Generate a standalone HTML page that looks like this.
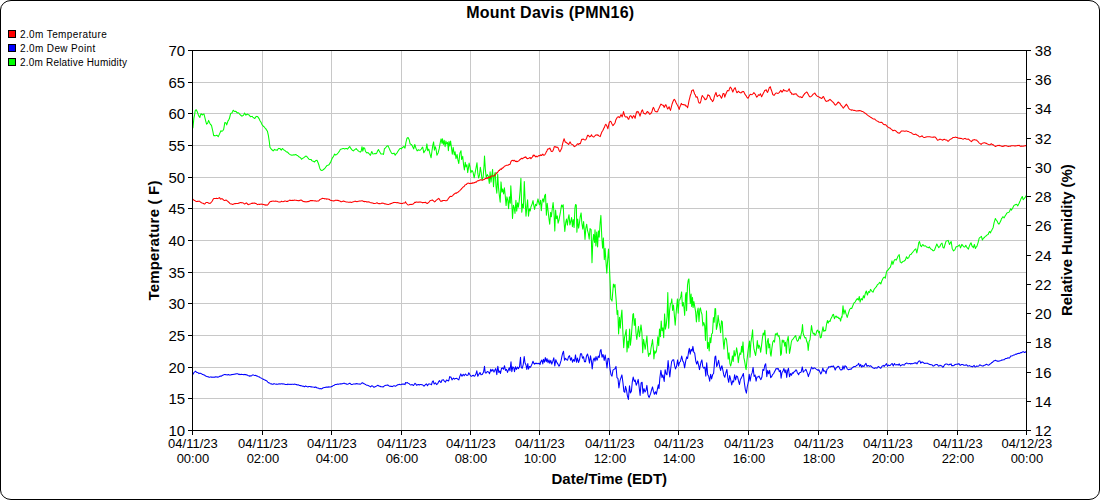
<!DOCTYPE html>
<html><head><meta charset="utf-8"><title>Mount Davis (PMN16)</title>
<style>
html,body{margin:0;padding:0;background:#fff;}
svg{display:block;font-family:"Liberation Sans",sans-serif;}
.g line{stroke:#c8c8c8;stroke-width:1;shape-rendering:crispEdges;}
.ax line{stroke:#000;stroke-width:1;shape-rendering:crispEdges;}
.yl text{font-size:15px;fill:#000;}
.xl text{font-size:13px;fill:#000;text-anchor:middle;}
.lg text{font-size:10px;fill:#000;}
.b{font-weight:bold;fill:#000;}
.c{fill:none;stroke-width:1.05;stroke-linejoin:round;stroke-linecap:round;}
</style></head><body>
<svg width="1100" height="500" viewBox="0 0 1100 500">
<rect x="0" y="0" width="1100" height="500" fill="#fff"/>
<rect x="0.5" y="0.5" width="1099" height="499" rx="10.5" ry="9.5" fill="#fff" stroke="#000" stroke-width="1"/>
<g class="g">
<line x1="262.5" y1="51" x2="262.5" y2="430"/>
<line x1="331.5" y1="51" x2="331.5" y2="430"/>
<line x1="401.5" y1="51" x2="401.5" y2="430"/>
<line x1="470.5" y1="51" x2="470.5" y2="430"/>
<line x1="539.5" y1="51" x2="539.5" y2="430"/>
<line x1="609.5" y1="51" x2="609.5" y2="430"/>
<line x1="678.5" y1="51" x2="678.5" y2="430"/>
<line x1="748.5" y1="51" x2="748.5" y2="430"/>
<line x1="818.5" y1="51" x2="818.5" y2="430"/>
<line x1="887.5" y1="51" x2="887.5" y2="430"/>
<line x1="957.5" y1="51" x2="957.5" y2="430"/>
<line x1="193" y1="82.5" x2="1026" y2="82.5"/>
<line x1="193" y1="113.5" x2="1026" y2="113.5"/>
<line x1="193" y1="145.5" x2="1026" y2="145.5"/>
<line x1="193" y1="177.5" x2="1026" y2="177.5"/>
<line x1="193" y1="208.5" x2="1026" y2="208.5"/>
<line x1="193" y1="240.5" x2="1026" y2="240.5"/>
<line x1="193" y1="272.5" x2="1026" y2="272.5"/>
<line x1="193" y1="303.5" x2="1026" y2="303.5"/>
<line x1="193" y1="335.5" x2="1026" y2="335.5"/>
<line x1="193" y1="367.5" x2="1026" y2="367.5"/>
<line x1="193" y1="398.5" x2="1026" y2="398.5"/>
</g>
<polyline class="c" stroke="#00ff00" points="192.9,128.0 193.9,118.1 194.6,114.7 195.2,110.7 196.2,109.7 196.9,111.0 197.5,112.3 198.4,115.0 199.1,116.4 199.8,117.5 200.4,115.3 201.1,113.7 201.7,114.3 202.3,115.0 203.2,114.2 204.0,114.0 204.7,116.9 205.3,119.4 206.0,122.1 206.6,124.2 207.6,123.3 208.6,120.4 209.8,123.2 210.6,124.5 211.5,125.3 212.1,128.1 212.8,131.2 213.7,135.6 214.5,135.6 215.4,135.7 216.0,135.6 216.7,135.3 217.5,135.8 218.3,136.6 219.1,134.9 219.9,133.1 220.9,130.8 221.6,131.3 222.2,131.2 222.9,130.5 223.6,129.6 224.2,126.3 224.8,122.5 225.8,122.7 226.7,124.9 227.3,123.0 228.0,120.9 228.6,120.1 229.3,118.8 229.9,116.5 230.6,113.7 231.2,113.2 231.9,113.0 232.5,111.8 233.2,110.2 233.8,110.8 234.5,111.5 235.3,111.3 236.2,111.6 236.8,112.5 237.5,113.0 238.1,112.8 238.8,113.0 239.6,114.1 240.5,115.0 241.1,115.5 241.8,116.2 242.5,115.8 243.3,115.4 244.0,114.2 244.6,113.0 245.3,114.2 245.9,115.2 246.7,114.4 247.5,114.1 248.3,114.8 249.2,115.0 249.8,115.9 250.5,116.8 251.3,116.6 252.2,116.4 252.8,117.1 253.5,117.6 254.1,118.2 254.8,118.4 255.5,117.4 256.3,116.4 257.0,116.5 257.6,116.6 258.4,117.6 259.2,118.9 260.0,120.8 260.9,122.0 261.7,123.9 262.6,125.4 263.3,126.3 264.1,126.7 264.9,127.8 265.7,128.6 266.5,129.9 267.4,131.2 268.4,135.6 269.3,141.7 270.0,147.5 270.6,148.1 271.3,149.2 271.9,149.8 272.6,150.3 273.2,150.9 273.9,150.2 274.5,149.4 275.2,149.8 275.8,150.1 276.5,150.0 277.1,150.4 277.9,149.2 278.7,148.4 279.3,148.6 280.0,148.4 280.6,149.4 281.3,150.2 281.9,149.1 282.6,148.5 283.2,149.3 283.9,150.0 284.7,150.4 285.6,151.2 286.4,151.9 287.3,152.0 288.0,152.6 288.8,153.6 289.6,154.1 290.4,154.8 291.2,154.9 292.1,155.3 292.9,154.9 293.8,154.8 294.5,154.9 295.3,154.6 296.1,154.8 296.9,155.3 297.7,155.6 298.6,156.5 299.3,157.0 300.0,157.4 300.8,158.1 301.5,159.3 302.2,158.7 303.0,158.1 303.8,157.7 304.5,157.1 305.4,156.3 306.2,156.1 306.9,156.6 307.5,157.6 308.2,158.1 309.0,159.3 309.7,159.4 310.3,159.4 311.0,159.4 311.8,160.6 312.5,161.1 313.2,161.3 313.8,161.5 314.5,162.0 315.5,160.8 316.2,160.5 317.0,160.2 318.2,163.0 318.9,165.0 319.5,167.4 320.1,169.0 320.8,170.1 321.8,170.5 322.6,170.2 323.5,169.5 324.2,169.0 325.0,168.1 325.8,167.0 326.5,166.1 327.1,165.4 327.8,165.3 329.0,164.7 330.0,163.1 330.8,161.8 331.5,160.0 332.2,158.3 333.0,157.1 333.8,155.8 334.5,154.1 335.5,155.0 336.1,154.7 336.8,154.5 337.5,153.5 338.2,152.8 338.9,151.9 339.5,150.9 340.1,149.8 340.8,149.2 341.5,148.9 342.2,148.8 343.0,148.5 343.8,148.6 344.5,148.9 345.2,148.7 345.9,148.5 346.5,148.5 347.5,149.1 348.5,147.9 349.7,146.5 350.8,148.4 352.0,149.8 352.8,150.5 353.5,150.9 354.1,150.1 354.8,149.6 355.5,149.1 356.2,148.5 356.9,149.6 357.5,149.9 358.2,150.9 359.0,151.4 360.2,152.1 361.2,151.1 362.0,146.7 362.8,151.1 363.8,147.5 364.8,148.6 365.5,151.5 366.1,152.1 366.8,152.9 368.0,152.6 369.2,153.8 369.9,154.8 370.5,155.3 371.1,153.1 371.8,151.5 372.8,153.9 374.0,153.7 375.2,153.4 375.9,153.7 376.5,153.6 377.5,151.1 378.5,149.5 379.1,150.7 379.8,151.9 381.0,154.0 381.8,154.0 382.5,153.9 383.5,154.4 384.5,148.4 385.1,148.3 385.8,147.5 387.0,146.1 388.0,145.8 389.2,148.4 389.9,150.0 390.5,151.3 391.5,153.1 392.1,153.6 392.8,153.7 394.0,153.1 395.2,155.3 395.9,154.1 396.5,153.4 397.1,152.8 397.8,151.5 399.0,149.7 400.2,148.4 400.9,148.5 401.5,148.9 402.1,147.7 402.8,147.3 404.0,146.5 405.0,148.1 405.9,142.6 407.0,138.2 408.1,137.5 409.2,139.7 410.1,143.8 410.8,144.3 411.5,144.5 412.6,146.6 413.7,148.9 414.8,144.5 415.9,148.1 417.1,150.9 417.8,150.3 418.5,149.8 419.2,150.3 419.9,150.3 420.6,149.9 421.3,149.0 422.0,147.9 422.7,147.1 423.8,152.8 424.9,150.9 426.0,149.5 426.9,143.9 427.7,150.8 428.8,149.1 429.9,153.6 431.1,157.8 431.9,151.5 432.7,145.9 433.6,141.9 434.4,150.2 435.3,146.7 436.1,149.5 436.9,155.2 438.1,153.0 439.2,148.7 440.3,142.4 441.1,138.9 442.0,143.3 442.5,138.8 443.4,144.5 444.2,140.3 445.1,146.7 445.9,141.1 446.7,143.9 447.6,142.4 448.4,150.7 449.0,141.4 449.8,145.9 450.6,141.1 451.5,148.0 452.3,154.2 453.2,147.4 454.3,155.0 455.1,151.7 456.0,158.6 457.1,154.5 457.9,159.9 458.8,163.5 459.9,153.1 461.0,150.7 461.6,159.5 462.7,156.3 463.5,164.3 464.4,170.0 465.2,162.2 466.0,166.9 466.9,164.7 467.7,172.6 468.4,168.4 469.1,163.1 470.0,166.9 470.8,172.8 471.9,170.4 473.0,172.0 474.2,177.8 475.3,171.8 476.1,167.6 477.0,162.7 477.8,173.2 478.6,178.0 479.5,175.2 480.3,167.2 481.2,172.3 482.0,179.8 483.1,177.3 484.0,166.1 484.5,156.0 485.4,169.9 486.2,177.5 487.3,174.6 488.4,176.5 489.3,183.5 490.1,171.8 491.0,182.1 491.8,175.7 492.6,169.4 493.5,186.8 494.3,175.5 495.2,172.4 496.0,186.2 496.8,193.3 497.7,174.1 498.5,187.6 499.4,195.9 500.2,202.2 501.0,181.9 501.9,192.1 502.7,189.0 503.6,193.9 504.4,187.8 505.2,195.2 506.1,205.6 506.9,196.8 507.8,200.3 508.6,208.8 509.4,196.8 510.3,203.2 510.8,185.8 511.7,200.8 512.5,218.5 513.4,205.2 514.2,207.8 515.0,213.5 515.9,200.3 516.7,211.1 517.6,202.7 518.4,207.2 519.2,201.1 520.1,190.9 520.9,178.3 521.8,212.2 522.6,204.0 523.4,207.8 524.3,181.6 525.1,199.9 526.0,216.3 526.8,207.4 527.6,199.8 528.5,216.3 529.3,208.8 530.2,211.0 531.0,206.7 532.1,204.0 533.0,200.6 533.8,205.5 534.6,209.4 535.5,204.3 536.6,205.7 537.3,201.9 538.0,198.9 538.7,202.4 539.4,204.8 540.5,200.3 541.3,210.8 542.2,200.8 543.0,198.8 543.8,202.1 544.7,195.5 545.5,194.3 546.4,215.2 547.2,203.2 548.0,210.1 548.9,218.2 549.7,224.3 550.6,212.4 551.4,216.8 552.2,209.5 553.1,202.5 553.9,211.5 554.8,231.1 555.6,210.0 556.4,218.7 557.3,215.9 558.1,223.2 559.0,220.0 559.8,215.6 560.6,211.2 561.5,205.0 562.3,207.0 563.2,204.7 564.0,221.5 564.8,231.5 565.7,222.7 566.5,219.0 567.4,225.1 568.2,218.3 569.0,214.7 569.9,224.9 570.7,221.6 571.6,217.5 572.4,226.8 573.2,219.5 574.1,227.6 574.9,208.7 575.5,204.6 576.3,204.9 576.9,232.3 577.7,219.1 578.6,228.1 579.4,223.4 580.2,216.8 581.1,212.9 581.9,223.5 582.8,229.1 583.6,221.5 584.4,231.0 585.0,239.4 585.8,228.4 586.7,224.2 587.5,230.3 588.4,233.7 589.2,239.3 590.0,228.5 591.1,229.7 592.0,262.8 592.8,241.6 593.6,234.4 594.5,242.4 595.0,229.7 595.9,245.9 596.7,232.1 597.6,247.0 598.4,230.9 599.2,237.1 600.1,223.2 600.9,215.4 601.8,237.2 602.6,248.1 603.4,237.9 604.3,259.6 605.1,248.3 606.0,262.3 606.8,273.1 607.6,261.1 608.5,249.1 609.3,263.9 610.1,281.4 610.8,299.2 611.4,299.5 612.0,301.1 612.7,292.7 613.4,284.1 614.2,287.0 615.0,284.4 615.6,293.3 616.2,300.6 617.1,314.4 617.8,310.6 618.6,334.0 619.5,317.3 620.3,328.1 621.2,316.1 621.9,310.1 622.7,328.2 623.7,347.7 624.5,337.7 625.4,333.7 626.2,329.6 627.0,351.9 627.9,341.0 628.7,347.9 629.6,329.1 630.4,345.3 631.2,338.2 632.1,325.4 632.9,314.4 633.5,313.6 634.3,325.5 635.2,318.5 636.0,333.0 636.8,339.5 637.7,332.5 638.5,326.4 639.4,336.8 640.2,331.2 641.0,324.9 641.9,332.6 642.7,352.8 643.6,339.3 644.4,344.1 645.2,349.3 646.1,342.4 646.9,335.9 647.8,350.4 648.6,356.4 649.4,353.4 650.3,354.1 651.1,347.5 652.0,342.9 652.5,339.6 653.4,349.1 653.9,358.9 654.8,350.7 655.6,353.1 656.4,351.3 657.3,343.9 657.8,336.7 658.7,345.6 659.5,329.0 660.4,336.7 661.2,321.0 662.0,330.8 662.9,327.8 663.7,337.8 664.6,313.9 665.4,329.1 666.2,325.4 667.1,316.2 667.8,292.5 668.7,328.3 669.6,310.4 670.4,303.7 671.2,303.0 671.8,298.9 672.6,310.4 673.5,305.1 674.3,314.6 675.2,325.3 676.0,314.6 676.8,305.2 677.4,298.9 678.2,313.3 679.1,299.9 679.9,299.7 680.8,296.7 681.6,291.9 682.4,306.1 683.3,302.5 684.1,308.6 684.7,315.4 685.5,295.2 686.1,292.6 686.6,310.8 687.5,285.2 688.3,279.9 688.9,278.9 689.7,293.4 690.3,303.6 691.1,294.1 691.7,306.5 692.5,297.4 693.1,307.6 693.9,301.5 694.8,306.9 695.6,311.8 696.4,321.9 697.3,311.9 698.1,308.0 699.0,321.6 699.8,309.3 700.4,307.9 701.2,311.9 702.0,314.5 702.9,325.9 703.7,322.5 704.7,325.6 705.5,340.4 706.5,310.9 707.5,348.4 708.3,342.3 709.2,350.9 710.0,337.5 710.8,342.8 711.7,333.8 712.5,333.2 713.4,317.6 714.2,322.3 715.0,308.6 715.6,308.8 716.4,329.5 717.3,325.6 718.1,315.3 719.0,322.4 719.8,325.8 720.6,332.7 721.5,320.8 722.3,321.9 723.2,340.6 724.0,349.1 724.8,339.7 725.7,337.9 726.5,339.8 727.4,347.7 728.2,359.1 729.0,352.8 729.9,363.4 730.7,366.0 731.6,361.8 732.4,355.9 733.2,361.5 734.1,350.5 734.9,356.3 735.8,353.8 736.6,347.8 737.4,352.7 738.3,362.8 739.1,356.3 740.0,352.9 740.8,354.4 741.6,346.3 742.2,352.2 743.0,341.9 743.9,357.9 744.7,361.6 745.6,367.4 746.1,369.6 747.0,359.9 747.8,352.9 748.6,346.4 749.5,341.0 750.0,357.3 750.9,342.4 751.7,337.5 752.6,329.8 753.1,340.7 754.0,349.2 754.8,352.6 755.6,355.5 756.5,349.1 757.3,340.5 758.2,348.4 759.0,345.1 759.8,347.0 760.7,352.3 761.5,345.9 762.4,338.1 763.2,333.0 764.0,334.9 764.9,330.2 765.7,343.4 766.4,354.0 767.3,341.6 768.2,338.5 768.8,347.9 769.7,343.9 770.4,353.7 771.0,356.2 771.9,348.1 772.8,342.1 773.7,340.4 774.5,342.1 775.4,333.8 776.3,334.6 777.2,332.9 778.1,336.2 779.0,335.6 779.8,339.9 780.7,355.4 781.4,353.7 782.2,340.0 783.1,342.1 783.8,340.2 784.7,346.2 785.5,342.2 786.4,353.2 787.1,341.4 788.2,336.4 788.9,345.0 789.5,353.4 790.4,348.6 791.3,342.2 792.1,339.9 793.0,339.2 793.9,337.8 794.8,336.6 795.7,335.6 796.5,339.4 797.4,341.3 798.3,340.4 799.4,336.3 800.3,338.9 801.2,333.9 801.8,331.7 802.5,324.5 803.2,333.5 804.0,335.8 804.9,337.9 805.8,337.5 806.7,341.3 807.6,343.5 808.2,350.4 809.1,341.6 810.0,339.8 810.9,331.2 811.5,325.5 812.4,331.4 813.3,334.0 814.2,333.2 815.0,335.5 815.9,334.3 816.8,330.9 817.7,330.0 818.6,332.7 819.4,331.3 820.3,337.9 821.2,337.4 822.1,331.5 823.0,326.8 823.8,331.4 824.7,330.4 825.6,330.7 826.5,324.5 827.4,320.5 828.2,323.1 829.1,320.9 830.0,321.5 830.9,318.7 831.8,317.3 832.6,315.0 833.5,314.4 834.4,318.7 835.3,316.8 836.2,316.0 837.0,317.6 837.9,317.0 838.8,318.4 839.7,318.2 840.6,321.1 841.5,316.7 842.0,317.3 843.0,305.7 843.9,314.1 845.0,309.9 846.1,314.1 847.2,317.4 848.4,313.3 849.5,309.8 850.6,308.3 851.7,308.5 852.8,305.7 854.0,302.9 855.1,302.1 856.2,300.1 857.3,298.6 858.4,300.0 859.3,296.5 860.1,302.2 861.2,298.6 862.4,299.9 863.5,295.7 864.3,297.9 865.4,293.0 866.3,291.0 867.4,295.0 868.5,291.6 869.6,292.4 870.5,289.4 871.6,290.8 872.3,291.6 873.0,292.2 874.1,289.4 875.2,288.0 876.4,286.7 877.5,284.6 878.6,283.8 879.7,282.4 880.8,284.0 882.0,280.4 883.1,278.2 884.2,277.0 885.3,278.2 886.2,273.4 887.0,270.7 888.1,270.0 889.2,268.4 890.4,267.2 891.2,264.3 892.0,260.9 892.9,264.4 894.0,260.8 895.1,259.4 896.2,260.1 896.8,259.1 897.4,257.7 898.0,256.1 898.6,255.5 899.2,254.6 900.2,261.9 900.9,262.2 901.5,262.9 902.1,262.3 902.8,261.5 903.5,261.2 904.2,261.0 904.9,260.5 905.5,259.6 906.5,256.8 907.5,258.4 908.1,258.2 908.8,257.5 909.8,254.9 910.4,254.6 911.0,254.5 911.6,253.4 912.2,252.9 912.9,252.0 913.5,251.3 914.1,250.5 914.8,249.6 915.8,248.8 916.8,253.0 917.8,248.5 918.8,242.5 919.5,241.5 920.5,245.6 921.5,246.6 922.1,245.4 922.8,244.5 923.4,245.1 924.0,245.9 924.8,245.9 925.5,245.8 926.2,246.5 927.0,247.3 927.8,247.3 928.5,247.8 929.5,246.9 930.1,248.1 930.8,249.0 931.4,249.2 932.0,249.5 932.6,250.4 933.2,250.9 933.9,250.5 934.5,250.1 935.1,248.5 935.8,246.6 936.8,244.0 937.8,246.0 938.8,247.6 939.4,246.8 940.0,246.3 941.0,244.0 942.0,243.0 943.0,247.5 944.0,248.1 945.0,244.5 945.6,242.7 946.2,240.9 947.2,240.7 948.2,240.4 948.9,242.7 949.5,244.5 950.5,242.4 951.2,241.6 952.2,248.4 952.9,249.7 953.5,250.9 954.1,250.4 954.8,249.8 955.4,248.5 956.0,246.8 956.6,246.8 957.2,246.5 957.9,246.3 958.5,245.6 959.5,244.9 960.5,247.9 961.1,246.5 961.8,244.4 962.4,244.9 963.0,245.9 963.6,246.5 964.2,247.1 965.0,246.8 965.8,245.2 966.5,246.7 967.1,247.7 967.8,248.5 968.4,249.2 969.0,247.2 969.7,245.2 970.4,243.8 971.0,242.7 972.0,246.0 972.7,246.6 973.3,247.8 974.4,244.5 975.4,248.5 976.1,247.2 976.9,246.4 977.5,244.4 978.1,242.6 979.2,238.1 980.4,237.2 981.4,236.4 982.4,240.0 983.1,238.8 983.7,238.0 984.4,237.5 985.0,236.7 985.8,236.1 986.6,235.5 987.4,234.7 988.1,234.6 988.8,232.8 989.5,231.5 990.5,232.9 991.1,231.3 991.8,230.2 992.4,228.9 993.1,227.7 994.1,222.6 994.8,220.4 995.4,218.5 996.1,219.8 996.7,220.5 997.4,221.6 998.0,223.2 998.9,224.1 999.6,223.1 1000.2,221.9 1000.9,220.6 1001.5,218.6 1002.2,217.8 1002.8,216.7 1003.5,217.1 1004.1,217.9 1004.8,216.6 1005.4,215.4 1006.1,214.5 1006.7,213.3 1007.4,212.7 1008.0,212.5 1008.7,212.2 1009.3,211.9 1010.0,210.2 1010.6,208.8 1011.5,210.1 1012.6,208.3 1013.2,206.9 1013.9,205.6 1014.5,205.0 1015.2,204.9 1015.8,204.4 1016.5,204.3 1017.1,204.9 1017.8,205.9 1018.4,204.6 1019.1,203.3 1019.7,201.7 1020.4,200.4 1021.0,198.7 1021.7,197.5 1022.3,196.5 1023.2,199.7 1024.3,198.5 1025.3,197.1 1026.1,195.8"/>
<polyline class="c" stroke="#ff0000" points="192.8,199.0 193.7,200.0 194.5,200.6 195.2,200.8 196.0,201.4 196.8,201.6 197.5,201.3 198.2,201.4 198.8,201.1 199.5,201.2 200.2,201.8 200.8,202.3 201.5,202.7 202.2,203.0 203.0,203.3 203.8,203.8 204.5,204.1 205.2,203.5 206.0,202.5 206.8,202.5 207.5,202.5 208.2,202.8 209.0,203.4 209.8,203.3 210.5,203.2 211.5,202.0 212.2,201.1 212.8,199.9 213.5,198.8 214.2,198.5 215.0,198.4 215.7,198.4 216.3,198.3 217.0,198.5 217.7,198.6 218.3,198.3 219.0,197.9 219.5,197.6 220.5,199.1 221.2,198.9 222.0,198.6 222.7,199.2 223.3,199.8 224.0,200.2 224.6,200.4 225.2,200.4 225.9,200.0 226.5,200.3 227.2,200.9 227.8,201.4 228.5,202.0 229.2,202.6 229.8,203.4 230.5,203.8 231.1,204.1 231.8,204.0 232.4,204.4 233.0,204.4 233.7,204.0 234.3,203.8 235.0,203.6 235.6,203.6 236.2,203.5 236.8,203.4 237.4,203.4 238.0,203.5 238.6,203.1 239.2,203.2 239.9,202.6 240.5,202.6 241.1,202.5 241.8,202.9 242.4,202.8 243.0,202.8 243.8,203.4 244.5,204.0 245.2,203.7 245.8,203.2 246.5,202.9 247.2,203.6 247.8,204.4 248.5,204.7 249.1,204.2 249.8,204.3 250.4,203.9 251.0,203.6 251.6,203.3 252.2,203.5 252.9,203.0 253.5,203.2 254.2,203.1 254.8,203.1 255.5,203.4 256.2,203.5 256.8,204.1 257.5,204.6 258.1,204.3 258.8,204.2 259.4,204.5 260.0,204.2 260.6,204.3 261.2,204.0 261.9,204.2 262.5,204.2 263.2,204.6 263.8,204.4 264.5,204.9 265.1,204.7 265.8,205.2 266.4,204.9 267.0,205.2 267.8,204.8 268.5,203.9 269.2,202.7 270.0,201.8 270.7,201.6 271.3,201.2 272.0,201.4 272.6,201.1 273.2,201.0 273.8,201.2 274.4,201.3 275.0,201.2 275.6,201.1 276.2,201.3 276.9,201.2 277.5,201.5 278.2,201.8 278.8,202.0 279.5,202.1 280.2,201.9 280.8,201.7 281.5,201.2 282.2,201.5 283.0,201.7 283.7,201.6 284.3,201.2 285.0,200.9 285.6,201.1 286.2,201.4 286.9,201.2 287.5,201.5 288.2,201.0 288.8,200.6 289.5,200.1 290.1,200.5 290.8,200.2 291.4,200.5 292.0,200.5 292.6,200.2 293.2,200.4 293.8,200.2 294.4,200.1 295.0,200.2 295.6,200.2 296.2,200.2 296.9,200.5 297.5,200.5 298.1,200.7 298.8,200.6 299.4,200.6 300.0,200.2 301.0,200.0 301.6,200.2 302.2,200.8 302.9,201.2 303.5,201.6 304.1,201.7 304.8,201.6 305.4,201.8 306.0,202.0 306.7,201.7 307.3,201.6 308.0,201.8 308.6,201.3 309.2,201.4 309.9,200.8 310.5,200.6 311.1,200.6 311.8,200.6 312.4,200.6 313.0,200.8 313.6,200.8 314.2,200.8 314.8,201.0 315.4,200.8 316.0,201.1 316.6,201.2 317.2,201.1 317.9,201.0 318.5,201.0 319.2,200.4 319.8,199.6 320.5,199.2 321.1,199.0 321.8,198.6 322.4,198.3 323.0,198.4 323.6,198.4 324.2,198.6 324.9,198.9 325.5,198.8 326.1,198.8 326.7,199.2 327.3,199.0 327.9,198.9 328.5,199.2 329.1,199.3 329.8,199.8 330.4,200.3 331.0,200.5 331.6,200.4 332.2,200.7 332.9,200.8 333.5,201.0 334.1,200.7 334.7,200.7 335.3,200.3 335.9,200.2 336.5,200.2 337.1,200.5 337.8,200.2 338.4,200.7 339.0,200.6 339.7,201.1 340.3,201.3 341.0,201.7 341.6,201.7 342.2,201.4 342.8,201.2 343.4,201.1 344.0,201.1 344.6,201.5 345.2,201.6 345.8,201.9 346.4,201.9 347.0,201.9 347.6,202.1 348.2,202.2 348.9,202.3 349.5,202.2 350.1,202.1 350.8,202.2 351.4,202.4 352.0,202.2 352.6,202.0 353.2,201.7 353.8,201.7 354.4,201.4 355.0,201.1 355.7,201.4 356.3,201.4 357.0,201.7 357.6,201.6 358.2,201.3 358.9,201.2 359.5,201.0 360.1,201.1 360.8,200.9 361.4,200.9 362.0,200.6 362.6,200.9 363.2,201.5 363.9,201.3 364.5,201.7 365.1,201.5 365.8,201.5 366.4,201.9 367.0,201.8 367.6,201.9 368.2,201.8 368.9,202.0 369.5,202.1 370.1,202.5 370.8,202.7 371.4,202.8 372.0,203.0 372.6,202.9 373.2,203.2 373.8,203.5 374.4,203.5 375.0,203.4 375.7,203.3 376.3,203.1 377.0,202.8 377.7,203.3 378.3,203.4 379.0,203.7 379.6,203.5 380.2,203.7 380.9,203.5 381.5,203.2 382.1,203.1 382.8,203.3 383.4,203.2 384.0,203.5 384.6,203.9 385.2,203.7 385.9,204.1 386.5,204.3 387.1,204.3 387.8,204.4 388.4,204.5 389.0,204.3 389.6,204.0 390.2,204.0 390.9,203.5 391.5,203.4 392.2,203.1 392.8,202.9 393.5,202.6 394.1,202.4 394.8,202.6 395.4,202.5 396.0,202.5 396.6,202.8 397.2,202.8 397.8,202.5 398.4,202.9 399.0,203.0 399.6,203.3 400.2,203.3 400.9,203.5 401.5,203.4 402.2,203.6 402.8,203.3 403.5,203.0 404.2,203.1 405.0,202.9 405.5,201.8 406.2,203.0 407.0,204.0 407.8,204.8 408.4,204.9 409.1,204.7 409.8,204.4 410.4,204.5 411.0,204.2 411.7,204.4 412.4,204.2 413.0,204.2 413.6,203.6 414.3,202.9 414.9,202.2 415.6,202.5 416.3,202.0 416.9,202.0 417.6,202.3 418.2,202.3 418.9,202.1 419.5,202.1 420.2,201.9 420.8,202.2 421.5,202.3 422.1,202.5 422.8,202.9 423.4,202.5 424.1,202.4 424.7,202.6 425.4,202.2 426.0,202.8 426.7,203.3 427.3,203.5 428.0,203.0 428.6,202.4 429.3,201.8 429.9,200.9 430.7,200.4 431.5,200.2 432.2,199.9 433.0,200.5 433.7,201.0 434.5,201.9 435.1,201.6 435.8,200.7 436.4,200.2 437.1,199.6 437.9,199.0 438.8,198.4 439.4,199.2 440.0,200.3 440.6,201.2 441.3,201.1 442.1,201.1 442.8,200.5 443.6,200.6 444.2,200.5 444.9,200.6 445.5,200.7 446.2,200.7 446.8,200.5 447.6,199.8 448.4,198.4 449.1,197.7 450.1,196.4 450.7,196.3 451.4,196.5 452.0,196.2 452.7,195.6 453.3,194.9 454.0,194.2 454.6,193.8 455.3,193.3 455.9,193.0 456.6,193.2 457.2,192.4 457.9,192.3 458.5,191.6 459.2,191.1 459.8,190.8 460.5,189.8 461.1,189.4 461.8,188.4 462.4,187.9 463.1,187.0 463.7,186.8 464.4,186.1 465.0,184.9 465.7,184.7 466.3,184.6 467.0,183.6 467.6,183.3 468.3,183.2 468.9,183.1 469.6,183.6 470.2,183.4 470.9,183.2 471.5,183.5 472.2,182.8 472.8,183.2 473.5,182.9 474.1,182.5 474.8,182.7 475.4,182.0 476.1,182.2 476.7,181.8 477.4,180.9 478.0,180.6 478.7,180.8 479.3,180.3 480.0,180.1 480.6,179.7 481.3,180.1 481.9,180.0 482.6,180.3 483.2,179.7 483.9,179.6 484.5,179.3 485.2,178.6 485.8,178.4 486.5,177.8 487.1,178.6 487.8,177.6 488.4,177.5 489.1,177.8 489.7,176.7 490.4,177.5 491.0,176.4 491.7,175.8 492.3,176.1 493.0,175.9 493.6,176.1 494.3,175.8 494.9,175.1 495.6,174.1 496.2,173.7 496.9,172.6 497.5,172.6 498.2,171.4 498.8,170.6 499.5,170.5 500.1,169.2 500.8,169.0 501.4,169.4 502.1,168.1 502.7,168.3 503.4,167.4 504.0,166.8 504.7,166.4 505.3,165.7 506.0,165.5 506.6,165.3 507.3,165.3 508.0,165.3 508.6,164.7 509.3,164.4 510.0,164.4 510.7,162.3 511.3,161.1 512.0,160.4 512.7,160.3 513.4,160.9 514.1,160.2 514.8,160.9 515.5,161.5 516.2,161.0 516.9,161.8 517.6,161.6 518.3,160.9 519.0,160.7 519.7,159.8 520.4,159.3 521.1,158.8 521.8,158.3 522.5,158.8 523.2,158.1 523.8,157.8 524.5,157.3 525.1,157.5 525.7,156.7 526.5,158.0 527.4,158.8 528.1,158.4 528.8,158.3 529.5,157.8 530.2,157.6 530.9,158.7 531.6,157.9 532.4,157.0 533.3,155.0 533.9,155.9 534.5,155.2 535.1,156.2 535.8,156.9 536.5,156.2 537.2,156.9 537.9,156.4 538.6,155.7 539.3,155.5 540.0,155.8 540.7,154.9 541.4,155.5 542.1,155.0 542.8,154.1 543.6,155.3 544.5,155.1 545.1,154.2 545.7,153.2 546.3,151.9 546.9,151.0 547.5,149.4 548.1,148.8 549.0,149.0 549.8,148.0 550.5,149.5 551.2,151.2 552.0,151.6 552.9,150.9 553.6,149.0 554.3,146.7 554.9,146.6 555.5,146.8 556.1,147.4 556.7,147.0 557.3,147.2 557.9,147.5 558.6,149.1 559.2,150.7 559.9,151.7 560.5,150.7 561.1,149.4 561.7,148.5 562.4,144.7 563.1,141.8 564.1,138.7 565.2,142.1 565.9,142.1 566.6,142.8 567.3,143.3 568.0,143.9 568.7,144.5 569.4,143.0 570.1,141.9 570.8,143.3 571.5,144.1 572.2,144.5 572.9,144.7 573.6,145.6 574.3,146.6 575.0,146.3 575.7,145.9 576.4,145.1 577.1,144.2 577.8,143.7 578.5,144.5 579.1,143.8 579.7,143.5 580.3,143.7 581.0,141.6 581.7,139.3 582.4,139.4 583.1,139.0 583.8,139.4 584.5,139.7 585.2,140.0 585.9,139.6 586.7,137.8 587.6,135.3 588.3,135.3 589.0,136.1 589.7,136.9 590.3,136.6 590.9,135.7 591.5,134.8 592.3,136.4 593.2,136.9 593.9,136.9 594.6,136.0 595.3,135.6 596.0,134.8 596.7,134.9 597.3,135.2 597.9,134.8 598.5,135.5 599.3,136.1 600.2,136.6 600.9,134.5 601.6,132.6 602.3,131.2 603.0,130.2 603.7,128.5 604.4,127.4 605.1,125.3 605.8,124.3 606.5,125.2 607.2,126.9 607.9,128.7 608.6,125.4 609.3,122.4 610.2,121.2 611.0,121.6 611.6,123.2 612.3,124.5 613.0,125.6 613.7,124.6 614.4,123.8 615.0,123.0 615.9,119.7 616.6,118.4 617.2,117.4 617.9,116.9 618.5,116.7 619.1,117.3 619.7,117.6 620.4,115.9 621.1,114.6 622.1,116.9 622.8,114.8 623.5,111.6 624.2,114.1 624.9,116.3 625.5,116.9 626.1,116.9 626.7,116.8 627.4,117.3 628.1,118.9 628.8,119.2 629.6,116.7 630.5,115.7 631.1,116.0 631.7,117.1 632.3,118.2 633.0,116.6 633.7,115.6 634.4,116.7 635.1,118.3 635.8,115.0 636.5,112.2 637.1,111.4 637.7,112.1 638.3,111.8 639.1,113.6 640.0,116.2 641.1,112.6 641.8,110.7 642.5,109.9 643.2,112.2 643.9,113.5 644.6,113.5 645.2,114.0 645.9,113.9 646.5,112.4 647.1,111.8 647.7,111.5 648.3,112.8 648.9,112.8 649.5,114.2 650.2,114.1 650.8,113.3 651.5,112.8 652.1,111.0 652.7,108.9 653.3,107.4 653.9,108.2 654.5,110.2 655.1,111.1 655.8,111.7 656.4,111.6 657.1,112.0 657.7,111.4 658.3,109.5 658.9,108.5 659.6,106.9 660.3,105.3 661.0,104.1 661.8,104.7 662.7,105.2 663.3,105.2 663.9,107.0 664.5,107.2 665.2,105.3 665.9,104.8 666.5,106.1 667.1,107.7 667.7,109.0 668.4,107.9 669.1,106.7 669.8,108.9 670.5,110.4 671.3,107.2 672.2,103.7 672.9,101.8 673.6,100.2 674.3,99.4 674.9,100.1 675.5,101.3 676.1,102.8 676.9,104.3 677.8,105.8 678.5,107.6 679.2,109.4 679.9,106.8 680.6,105.5 681.3,103.4 681.9,104.3 682.5,104.4 683.1,104.8 683.8,104.6 684.4,105.0 685.1,104.7 685.7,106.0 686.3,105.9 687.0,106.6 687.6,107.7 688.3,104.5 689.0,100.6 689.7,98.1 690.4,95.2 691.1,93.4 691.8,90.4 692.5,90.3 693.2,89.8 693.9,91.7 694.6,94.0 695.3,94.9 696.0,97.2 697.1,96.8 697.8,98.6 698.5,102.0 699.3,103.1 700.2,103.0 700.9,100.9 701.6,97.4 702.3,95.5 703.0,96.5 703.7,97.3 704.4,98.4 705.1,99.8 705.8,99.1 706.5,99.2 707.2,97.1 707.9,94.7 708.6,95.4 709.3,95.6 710.0,97.0 710.7,99.3 711.3,99.3 711.9,100.4 712.5,101.6 713.5,100.3 714.2,97.2 715.0,94.7 716.0,92.4 716.6,94.8 717.2,96.6 718.0,95.8 718.8,95.4 719.4,94.9 720.0,95.5 720.8,97.0 721.5,98.2 722.3,96.3 723.0,93.6 724.0,93.6 724.8,97.2 725.6,94.7 726.4,92.8 727.5,90.6 728.1,90.7 728.8,90.8 729.5,88.6 730.2,87.1 731.4,88.4 732.1,90.2 732.8,92.0 733.6,90.1 734.4,88.6 735.2,87.7 736.0,90.4 736.8,92.7 737.6,92.2 738.4,91.2 739.1,91.9 739.8,92.6 740.4,92.8 741.0,92.9 741.6,92.1 742.3,92.0 743.0,91.4 743.6,91.6 744.4,93.1 745.2,94.7 746.0,95.6 746.8,97.0 747.4,97.9 748.0,98.2 748.8,96.9 749.6,95.1 750.4,94.3 751.2,94.6 752.0,94.7 752.7,94.0 753.3,93.3 753.9,92.6 754.7,93.7 755.4,94.3 756.1,96.0 756.8,97.1 757.6,96.4 758.4,94.7 759.0,95.2 759.6,95.3 760.4,93.8 761.0,95.1 761.6,96.7 762.4,95.3 763.2,93.5 764.0,92.0 764.7,90.6 765.5,90.3 766.2,89.7 766.9,91.7 767.6,92.4 768.4,90.3 769.2,87.9 769.8,87.1 770.4,86.8 771.0,89.3 771.6,90.7 772.8,94.5 773.6,95.2 774.3,95.3 775.2,93.8 776.0,93.0 776.8,93.0 777.6,93.4 778.5,93.2 779.4,92.4 780.1,91.3 780.8,90.4 782.0,92.2 782.8,91.2 783.6,89.5 784.4,90.7 785.1,90.8 785.8,90.8 786.5,91.2 787.2,91.3 787.9,90.9 788.5,89.8 789.2,88.8 790.4,92.3 791.2,92.8 792.0,94.4 792.9,93.9 793.8,94.6 794.5,93.9 795.2,94.0 795.9,93.7 796.6,94.1 797.4,95.8 798.3,96.1 799.2,96.9 800.0,97.1 800.7,96.7 801.6,97.6 802.4,97.4 803.2,95.7 804.0,94.7 804.8,93.4 805.6,93.0 806.4,92.1 807.1,92.3 807.9,93.7 808.6,95.1 809.4,96.6 810.3,96.9 811.2,96.4 811.8,95.8 812.4,95.1 813.0,94.3 813.6,94.1 814.3,93.2 815.0,93.1 815.7,94.7 816.4,95.4 817.2,96.2 818.0,96.4 818.8,96.9 819.4,97.3 820.0,97.7 820.6,97.7 821.2,98.4 822.0,98.2 822.8,96.9 823.6,96.6 824.4,98.6 825.2,100.1 826.0,101.3 826.6,101.4 827.3,100.9 827.9,101.1 828.6,100.5 829.3,99.9 830.0,99.3 830.8,100.1 831.6,100.9 832.4,101.7 833.0,102.1 833.7,102.8 834.3,103.9 834.9,104.7 835.6,105.1 836.3,104.3 837.0,103.8 837.7,102.5 838.5,102.0 839.1,102.9 839.7,103.1 840.4,104.1 841.1,105.4 841.8,106.0 842.5,107.0 843.3,108.1 843.9,107.6 844.5,106.3 845.2,106.0 845.8,104.8 846.5,104.2 847.1,105.4 847.8,106.3 848.5,108.0 849.2,108.9 849.8,109.4 850.4,109.7 851.0,109.8 851.6,110.2 852.2,109.9 852.9,110.1 853.5,110.4 854.1,110.2 854.8,110.6 855.6,110.7 856.4,111.0 857.2,111.0 858.0,110.6 858.8,110.9 859.6,110.5 860.2,110.8 860.8,110.8 861.5,111.3 862.1,111.4 862.8,111.6 863.4,111.9 864.0,112.4 864.7,113.1 865.3,113.2 866.0,113.7 866.6,114.3 867.2,114.8 867.9,115.4 868.5,115.8 869.2,116.2 869.8,116.5 870.4,117.3 871.1,117.4 871.7,117.9 872.4,118.5 873.2,118.9 874.0,118.9 874.8,119.1 875.5,119.9 876.4,120.6 877.1,121.0 877.9,121.3 878.8,122.0 879.5,122.3 880.1,122.2 880.8,122.4 881.4,122.2 882.0,122.5 882.6,123.3 883.2,124.0 883.9,124.6 884.6,124.8 885.3,124.6 886.0,125.0 886.7,126.0 887.5,126.7 888.3,127.4 889.1,127.7 889.9,128.0 890.7,128.7 891.4,129.5 892.1,129.7 892.8,130.6 893.5,130.6 894.1,130.3 894.7,130.3 895.5,130.7 896.3,131.4 897.1,132.2 897.8,132.8 898.5,133.0 899.2,133.3 900.0,132.8 900.7,131.8 901.5,130.9 902.2,130.9 902.9,131.0 903.6,131.0 904.3,131.3 905.1,131.2 905.9,131.0 906.7,130.9 907.5,131.4 908.3,131.4 909.1,131.9 909.9,132.3 910.7,132.5 911.5,132.9 912.3,133.7 913.1,134.1 913.9,134.5 914.6,134.5 915.2,134.2 915.8,134.1 916.6,134.8 917.4,135.3 918.1,135.6 918.7,136.2 919.4,136.8 920.0,136.9 920.8,136.5 921.4,136.3 922.1,135.8 922.7,136.6 923.4,137.2 924.1,137.4 924.9,137.5 925.6,137.1 926.3,137.0 927.0,136.7 927.7,136.7 928.4,136.7 929.1,136.7 929.8,136.7 930.5,136.9 931.2,137.1 931.9,137.2 932.6,137.3 933.3,137.1 934.1,137.1 934.9,136.9 935.6,137.6 936.4,138.4 937.5,140.2 938.2,140.0 938.9,139.7 939.6,139.2 940.4,139.2 941.1,139.5 941.9,139.8 942.7,140.3 943.5,139.5 944.3,139.2 945.0,139.6 945.7,140.0 946.4,140.0 947.0,140.3 947.6,141.1 948.2,141.3 949.1,140.4 950.0,139.5 950.8,139.1 951.6,138.8 952.4,138.0 953.2,137.4 953.9,137.4 954.6,137.4 955.2,137.1 955.9,137.2 956.6,137.4 957.3,137.6 958.0,137.9 958.7,138.2 959.4,138.1 960.1,138.5 960.8,138.3 961.5,138.5 962.3,138.9 963.1,139.3 963.8,138.9 964.5,138.5 965.2,138.4 966.0,139.1 966.8,139.3 967.4,139.2 968.1,139.0 968.8,139.3 969.6,140.1 970.4,140.9 971.5,141.7 972.2,140.6 973.0,139.8 973.8,139.9 974.6,139.6 975.3,140.0 976.0,139.9 976.7,140.2 977.5,141.1 978.2,141.7 979.0,142.8 979.8,143.4 980.4,143.7 981.1,144.5 981.8,143.7 982.4,143.2 983.2,143.1 984.0,142.7 984.8,142.8 985.6,143.3 986.3,143.3 987.0,143.8 987.7,144.1 988.5,144.5 989.4,144.8 990.1,144.7 990.7,144.2 991.3,143.8 992.0,144.3 992.7,144.7 993.4,144.8 994.1,145.6 994.8,146.0 995.5,146.5 996.3,146.1 997.1,145.8 997.8,145.4 998.5,145.6 999.2,145.3 999.9,145.8 1000.6,145.7 1001.2,146.2 1002.0,146.2 1002.8,146.5 1003.4,146.1 1004.1,146.1 1004.7,145.6 1005.5,145.7 1006.2,145.8 1007.0,146.1 1007.7,146.2 1008.4,146.5 1009.1,146.3 1009.8,146.3 1010.5,146.2 1011.2,145.7 1011.8,145.7 1012.5,145.8 1013.1,145.7 1013.8,145.8 1014.5,145.9 1015.1,145.7 1015.8,145.9 1016.4,145.8 1017.1,145.8 1017.7,145.4 1018.4,145.6 1019.0,145.3 1019.7,145.8 1020.4,146.3 1021.1,146.4 1021.8,146.0 1022.5,146.2 1023.2,146.3 1023.9,146.0 1024.6,145.9 1025.3,145.5 1026.3,145.9"/>
<polyline class="c" stroke="#0000ff" points="192.8,374.5 194.0,372.4 194.8,371.9 195.5,371.2 196.2,371.9 197.0,372.5 197.7,372.6 198.3,372.9 199.0,373.6 199.7,373.3 200.3,373.3 201.0,373.6 201.7,373.8 202.3,374.4 203.0,374.5 203.7,374.9 204.3,374.9 205.0,375.5 205.7,376.1 206.3,376.2 207.0,376.6 207.7,376.8 208.3,376.7 209.0,377.3 209.6,377.3 210.2,377.1 210.9,376.9 211.5,377.3 212.1,377.1 212.8,377.2 213.4,377.3 214.0,377.1 214.7,377.2 215.5,376.8 216.2,376.9 217.0,376.8 217.7,377.2 218.5,377.1 219.2,376.5 219.8,376.2 220.5,376.1 221.2,376.3 221.8,375.7 222.5,375.5 223.2,375.0 223.8,374.8 224.5,374.5 225.2,374.5 225.8,374.8 226.5,374.8 227.2,375.0 227.8,374.7 228.5,374.6 229.2,374.9 229.8,375.1 230.5,375.0 231.2,374.6 231.8,374.8 232.5,374.4 233.2,374.5 233.8,374.3 234.5,374.3 235.2,373.9 235.8,374.1 236.5,373.8 237.2,373.8 237.8,373.8 238.5,374.3 239.1,374.6 239.8,374.1 240.4,374.6 241.0,374.5 241.7,374.3 242.3,374.4 243.0,374.6 243.7,374.8 244.3,374.4 245.0,374.8 245.7,374.5 246.3,374.9 247.0,374.8 247.7,375.4 248.3,375.8 249.0,375.8 249.7,376.2 250.3,375.8 251.0,375.9 251.7,375.7 252.3,375.0 253.0,374.9 253.7,375.1 254.3,375.4 255.0,375.4 255.7,375.3 256.3,375.9 257.0,375.8 257.7,376.4 258.3,376.7 259.0,376.8 259.7,377.2 260.3,377.6 261.0,378.0 261.7,378.4 262.3,378.7 263.0,379.0 263.7,379.6 264.3,379.7 265.0,380.0 265.7,380.5 266.3,380.6 267.0,381.1 267.7,382.1 268.3,382.4 269.0,383.0 269.7,383.0 270.3,383.6 271.0,384.0 271.7,383.8 272.3,384.3 273.0,384.3 273.8,383.8 274.5,383.8 275.2,384.0 276.0,384.2 276.6,384.1 277.2,384.2 277.9,384.2 278.5,383.9 279.1,383.7 279.8,384.0 280.4,384.1 281.0,383.7 281.6,383.8 282.2,384.0 282.9,383.8 283.5,384.0 284.1,384.0 284.8,384.2 285.4,384.4 286.0,384.4 286.6,384.4 287.2,384.6 287.9,384.0 288.5,384.3 289.1,384.5 289.8,384.3 290.4,384.3 291.0,384.6 291.6,384.3 292.2,384.2 292.9,384.3 293.5,384.4 294.1,384.1 294.8,384.3 295.4,384.3 296.0,384.6 296.7,384.6 297.3,384.9 298.0,384.7 298.7,384.9 299.3,385.4 300.0,385.6 300.7,385.6 301.3,385.7 302.0,385.9 302.7,386.2 303.3,386.1 304.0,386.6 304.7,386.6 305.3,386.1 306.0,386.1 306.7,386.6 307.3,386.7 308.0,386.9 308.7,386.6 309.3,386.4 310.0,386.4 310.7,386.9 311.3,386.7 312.0,387.0 312.7,387.0 313.3,387.1 314.0,387.2 314.7,387.5 315.3,387.0 316.0,387.1 316.7,387.8 317.3,388.0 318.0,388.1 318.7,388.2 319.3,388.8 320.0,388.8 320.8,388.6 321.5,388.9 322.2,388.5 323.0,387.8 323.7,387.7 324.3,387.5 325.0,387.5 325.7,387.2 326.3,387.0 327.0,387.2 327.6,387.0 328.2,387.3 328.9,386.8 329.5,387.1 330.2,387.0 330.8,386.9 331.5,386.6 332.2,386.4 332.8,385.9 333.5,385.4 334.2,385.3 335.0,384.6 335.7,384.4 336.3,384.5 337.0,384.3 337.7,384.1 338.3,384.4 339.0,384.0 339.7,383.9 340.3,383.8 341.0,384.1 341.7,383.8 342.3,383.8 343.0,383.5 343.8,383.2 344.5,383.3 345.2,383.8 346.0,383.7 346.8,384.2 347.5,384.3 348.2,384.0 349.0,383.6 349.8,383.3 350.5,383.8 351.2,384.4 352.0,384.4 352.7,384.2 353.3,384.0 354.0,384.0 354.7,383.9 355.3,383.8 356.0,383.9 356.7,383.6 357.3,383.8 358.0,384.1 358.7,384.0 359.3,383.9 360.0,384.3 360.8,384.0 361.5,383.2 362.5,382.8 363.2,383.2 364.0,383.8 364.8,384.1 365.5,384.5 366.2,384.9 367.0,385.2 367.7,385.3 368.3,385.6 369.0,385.9 369.8,386.4 370.5,386.9 371.2,386.2 372.0,385.7 372.7,386.1 373.3,386.7 374.0,387.2 374.7,387.0 375.3,386.5 376.0,386.3 376.6,386.0 377.2,385.6 377.8,385.3 378.6,385.7 379.5,386.3 380.2,386.3 380.8,386.7 381.5,386.7 382.2,386.7 383.0,387.0 383.8,386.5 384.5,385.7 385.2,385.5 386.0,385.2 386.8,385.2 387.5,384.9 388.2,385.2 389.0,385.9 389.7,386.2 390.3,386.1 391.0,386.5 391.8,386.3 392.5,386.6 393.2,386.1 394.0,385.6 394.8,386.0 395.5,386.2 396.2,385.8 397.0,385.2 397.7,384.7 398.3,384.8 399.0,384.4 399.7,384.3 400.3,384.8 401.0,384.6 401.7,384.3 402.3,384.1 403.0,384.3 403.7,384.1 404.3,384.1 405.0,384.6 405.5,382.6 406.2,382.9 406.8,382.7 407.5,382.6 408.2,383.3 409.0,383.5 409.8,384.4 410.5,384.9 411.2,384.9 412.0,384.5 412.8,385.1 413.5,385.4 414.2,384.5 415.0,383.3 415.8,383.9 416.5,385.2 417.2,384.9 418.0,384.6 418.8,384.6 419.5,384.9 420.2,384.6 421.0,384.5 421.8,384.8 422.5,384.8 423.2,385.4 424.0,386.2 424.8,385.3 425.5,384.5 426.5,383.9 427.5,385.8 428.5,384.1 429.2,383.9 430.0,384.1 430.8,384.2 431.5,384.8 432.2,382.1 433.2,380.8 434.2,384.0 434.9,383.4 435.5,382.8 436.5,384.6 437.5,383.9 438.5,381.9 439.5,380.6 440.2,381.8 441.0,382.5 442.0,380.0 442.8,380.0 443.5,379.7 444.5,381.4 445.5,382.1 446.5,380.0 447.5,380.4 448.7,380.9 449.7,376.6 450.4,377.2 451.0,377.1 452.0,379.9 452.8,378.8 453.5,378.1 454.5,379.2 455.2,378.6 456.0,378.4 456.8,378.3 457.5,379.0 458.1,379.4 458.8,379.9 459.8,376.4 460.8,373.9 462.0,376.3 463.2,374.3 464.2,375.7 464.9,374.7 465.5,374.0 466.5,375.2 467.2,375.4 468.0,375.0 468.8,372.8 469.8,374.5 471.0,376.3 471.8,376.3 472.5,375.4 473.5,375.3 474.1,376.2 474.8,376.0 475.8,374.3 476.8,370.8 477.8,376.3 479.0,374.1 480.0,372.5 481.0,374.7 482.2,374.6 482.9,373.2 483.5,372.3 484.5,366.3 485.2,372.6 485.9,373.1 486.5,372.8 487.2,371.6 488.0,371.7 488.8,372.3 489.5,373.7 490.1,372.0 490.8,369.2 491.8,371.2 492.8,369.4 494.0,372.1 495.0,369.9 495.8,368.6 496.8,374.6 497.8,366.2 498.8,372.4 499.8,371.0 500.5,373.5 501.5,368.3 502.5,367.9 503.5,369.3 504.5,365.7 505.5,370.5 506.5,369.3 507.5,372.4 508.5,369.6 509.2,367.7 510.0,370.8 511.0,361.8 511.8,371.7 512.8,366.8 513.8,367.9 514.5,371.7 515.5,366.7 516.5,369.4 517.5,367.1 518.5,368.6 519.5,366.7 520.5,357.3 521.2,367.2 522.2,368.3 523.2,364.6 524.2,356.5 525.0,362.7 526.0,365.0 526.8,369.4 527.8,363.6 528.5,369.1 529.5,366.5 530.5,367.3 531.5,365.1 532.2,363.5 533.0,361.3 533.8,363.4 534.5,364.1 535.2,363.1 536.0,363.8 536.8,363.1 537.5,363.7 538.2,363.8 539.0,363.1 540.0,364.5 540.8,361.6 541.8,360.0 542.8,363.9 543.5,359.3 544.5,362.2 545.3,357.6 546.3,361.7 547.0,358.5 548.0,362.7 549.0,359.9 549.8,363.3 550.8,360.4 551.8,364.2 552.8,361.2 553.8,357.8 554.8,366.0 555.8,359.7 556.8,362.4 557.8,363.9 558.4,364.9 559.0,366.2 559.6,365.3 560.2,363.4 561.2,360.2 561.9,356.4 562.5,353.8 563.5,351.2 564.5,360.2 565.5,358.2 566.5,359.6 567.5,360.3 568.5,356.8 569.5,355.7 570.5,360.2 571.5,357.7 572.5,362.2 573.5,359.6 574.5,361.3 575.5,354.9 576.5,362.3 577.5,358.0 578.5,362.5 579.5,359.8 580.5,353.8 581.5,353.7 582.5,358.2 583.5,356.7 584.5,361.8 585.5,361.8 586.5,355.9 587.5,354.0 588.5,357.6 589.5,363.1 590.5,355.8 591.5,361.6 592.2,368.9 593.2,360.2 594.2,358.0 595.0,361.1 596.0,356.6 597.0,360.2 597.6,358.7 598.2,356.1 599.2,357.5 600.2,351.0 601.0,349.5 602.0,357.3 603.0,354.5 603.6,356.7 604.2,360.5 605.2,355.1 606.2,361.5 607.0,368.0 608.0,358.3 609.0,358.8 610.0,368.8 611.0,374.7 612.0,376.1 613.0,370.2 614.0,369.4 615.0,368.8 616.0,366.4 617.0,377.7 618.0,378.6 618.9,388.0 620.0,380.6 620.9,377.8 621.9,374.9 623.0,383.1 623.9,391.4 624.8,392.3 625.5,386.3 626.5,390.2 627.4,395.8 628.4,399.4 629.5,385.8 630.4,392.9 631.4,391.3 632.3,381.8 633.2,377.1 634.3,381.4 635.2,380.0 636.2,385.2 637.2,382.7 638.2,379.4 639.1,386.8 640.1,395.4 641.1,382.9 642.1,382.2 643.0,393.4 644.0,388.6 645.0,392.0 646.0,390.2 646.9,385.4 647.9,394.4 648.6,396.6 649.2,397.4 649.9,395.4 650.5,393.9 651.5,390.1 652.5,386.9 653.4,391.2 654.4,394.3 655.5,391.8 656.4,394.2 657.4,389.2 658.3,384.8 659.0,388.6 659.9,377.5 660.9,370.3 662.0,377.6 662.9,374.9 663.5,377.6 664.2,381.4 665.1,369.7 666.1,373.8 667.0,374.8 668.1,360.5 669.0,369.9 669.8,377.0 670.7,368.7 671.6,361.8 672.6,360.1 673.7,359.7 674.6,365.7 675.5,368.9 676.5,366.5 677.6,359.9 678.5,366.0 679.4,362.5 680.4,361.5 681.1,358.6 681.7,356.0 682.8,361.2 683.7,362.3 684.6,367.8 685.6,361.6 686.7,356.9 687.6,358.5 688.5,352.2 689.3,348.3 690.2,354.1 691.1,349.3 692.1,351.1 692.9,346.4 693.8,352.1 694.7,353.1 695.8,361.1 696.7,364.1 697.6,361.1 698.6,365.1 699.5,369.6 700.6,363.8 701.2,361.4 701.9,359.9 702.8,366.8 703.8,368.2 704.9,367.1 705.8,376.1 706.7,362.7 707.7,374.7 708.6,376.0 709.7,381.2 710.6,374.2 711.6,378.9 712.7,374.5 713.6,373.5 714.2,366.4 715.0,356.8 715.7,356.0 716.7,366.6 717.6,364.2 718.6,360.3 719.6,366.3 720.6,370.4 721.3,367.3 721.9,365.7 723.0,370.9 723.9,375.5 724.8,377.3 725.8,373.0 726.9,369.4 727.8,377.9 728.7,382.3 729.7,375.5 730.6,379.2 731.7,384.9 732.7,380.9 733.6,382.0 734.6,374.7 735.6,380.0 736.6,375.9 737.5,376.6 738.5,380.9 739.5,384.5 740.4,379.5 741.4,377.9 742.5,375.5 743.4,373.5 744.3,382.2 745.3,389.4 746.4,393.1 747.3,386.5 748.2,382.7 749.2,374.3 750.1,381.1 751.2,374.9 752.1,372.9 753.1,367.4 754.1,376.5 755.1,375.0 756.1,381.1 757.0,376.9 758.1,377.0 759.0,376.0 760.0,378.3 760.9,379.6 762.0,376.7 762.9,369.3 763.8,370.5 764.8,365.3 765.7,363.7 766.8,376.7 767.7,370.4 768.7,373.8 769.6,370.4 770.7,377.7 771.6,376.7 772.6,374.6 773.7,373.5 774.6,371.5 775.2,370.6 775.9,368.8 776.5,368.6 777.2,369.2 777.8,368.4 778.5,369.0 779.4,371.8 780.4,370.4 781.1,378.2 782.0,372.5 783.0,371.0 783.9,368.5 785.0,372.7 785.9,369.9 786.7,377.5 787.6,370.8 788.5,368.3 789.5,376.8 790.6,373.6 791.5,375.2 792.4,372.8 793.4,373.3 794.1,371.7 794.7,371.6 795.4,370.6 796.0,369.7 796.7,370.6 797.3,372.7 798.0,373.6 798.6,374.8 799.3,373.0 799.9,372.6 800.6,372.4 801.2,371.8 802.3,366.9 803.2,372.2 803.8,371.3 804.5,370.9 805.1,370.3 805.8,369.3 806.4,370.5 807.1,372.4 807.7,374.1 808.4,376.6 809.0,374.3 809.7,373.2 810.6,369.9 811.6,367.1 812.3,368.2 812.9,369.0 814.0,367.8 815.0,368.2 816.2,369.1 816.9,369.5 817.5,370.0 818.1,370.4 818.8,369.7 819.8,371.7 820.8,374.0 821.8,372.1 822.8,368.0 823.8,371.3 824.8,370.7 825.4,371.7 826.0,373.7 827.0,369.3 828.0,368.6 829.0,366.6 830.0,367.1 830.6,366.7 831.2,366.3 832.2,366.6 833.2,365.9 834.2,367.4 835.2,370.0 836.2,367.7 836.9,367.4 837.5,366.6 838.1,366.3 838.8,366.4 839.8,368.9 840.4,369.5 841.0,370.1 841.6,369.6 842.2,369.6 843.0,365.9 844.0,369.2 845.0,365.7 845.6,366.3 846.2,366.5 847.2,368.9 847.9,369.3 848.5,369.8 849.1,369.5 849.8,369.2 850.5,369.1 851.2,369.3 851.9,368.2 852.5,367.5 853.1,367.3 853.8,366.6 854.4,366.5 855.0,366.7 855.6,366.5 856.2,365.7 856.9,365.2 857.5,365.0 858.1,364.3 858.7,363.4 859.7,366.4 860.7,364.4 861.7,367.1 862.7,365.5 863.4,366.3 864.0,366.6 865.0,364.6 866.0,363.4 867.0,366.4 867.6,365.7 868.2,365.5 868.9,365.9 869.5,366.4 870.5,365.8 871.1,366.1 871.8,367.0 872.5,367.3 873.2,368.1 873.9,368.2 874.5,368.4 875.1,367.9 875.8,367.8 876.4,368.1 877.0,368.2 877.6,367.6 878.2,366.6 878.9,366.8 879.5,367.4 880.1,368.0 880.8,368.3 881.4,367.2 882.0,366.3 882.6,365.9 883.2,365.4 884.2,366.4 884.9,365.4 885.5,365.0 886.5,363.6 887.5,366.3 888.5,365.0 889.1,365.4 889.8,365.6 890.4,365.2 891.0,364.5 891.6,363.9 892.2,363.5 893.2,365.9 893.9,364.5 894.5,363.5 895.1,364.6 895.8,365.0 896.4,364.7 897.0,364.5 897.6,364.7 898.2,365.1 899.2,363.8 899.9,365.2 900.5,365.9 901.1,365.4 901.8,365.0 902.4,364.7 903.0,364.6 903.6,365.0 904.2,365.1 904.9,364.3 905.5,363.4 906.1,363.3 906.8,363.0 907.4,363.4 908.0,363.7 908.6,363.8 909.2,363.6 909.9,363.5 910.5,364.0 911.1,363.7 911.8,363.5 912.4,363.8 913.0,363.6 913.8,363.3 914.5,362.9 915.1,363.2 915.8,362.7 916.4,363.2 917.0,363.9 917.6,362.8 918.2,361.9 919.2,360.9 920.0,361.1 920.8,363.2 921.4,362.5 922.1,361.9 923.0,362.3 923.9,363.0 924.7,363.5 925.5,363.3 926.1,363.3 926.9,363.2 927.5,363.3 928.2,363.7 928.9,364.1 929.6,364.4 930.3,364.5 931.0,364.8 931.7,364.7 932.4,365.1 933.0,366.0 933.6,366.0 934.5,365.3 935.4,364.8 936.2,364.5 937.0,364.5 937.7,365.0 938.5,366.1 939.3,366.0 940.1,365.2 940.9,365.8 941.7,365.8 942.3,366.8 943.0,367.2 943.6,366.4 944.3,365.2 945.1,364.4 945.8,364.1 946.6,364.0 947.4,364.2 948.2,364.7 949.0,364.9 949.7,364.2 950.4,364.4 951.1,363.8 951.8,365.8 952.5,365.6 953.2,365.8 953.9,365.6 954.7,364.7 955.4,364.4 956.1,364.2 956.8,364.2 957.5,364.0 958.2,364.2 958.9,363.6 959.5,364.3 960.2,365.4 960.8,365.1 961.5,364.4 962.3,364.4 963.1,364.8 963.9,365.3 964.7,365.3 965.4,365.2 966.2,364.8 967.0,365.2 967.8,366.1 968.6,366.0 969.4,365.6 970.1,365.9 970.9,366.2 971.7,366.5 972.5,366.9 973.3,366.1 974.1,365.4 975.1,367.1 975.9,366.6 976.7,366.0 977.5,366.3 978.2,366.3 978.9,365.9 979.6,364.9 980.3,365.0 981.1,365.5 981.8,365.7 982.4,366.0 983.2,366.0 984.0,365.3 984.8,365.3 985.6,364.7 986.4,364.3 987.1,364.6 987.9,365.0 988.7,365.2 989.5,364.5 990.3,363.8 991.0,363.5 991.7,362.6 992.4,362.4 993.1,361.6 993.9,360.8 994.7,360.7 995.5,360.3 996.3,360.7 997.1,361.1 997.9,361.1 998.6,361.3 999.4,361.0 1000.2,360.7 1001.0,360.5 1001.8,360.0 1002.6,360.1 1003.3,359.8 1004.1,359.8 1004.9,359.0 1005.7,358.5 1006.5,358.5 1007.3,358.3 1008.0,357.7 1008.8,358.0 1009.6,357.9 1010.7,356.0 1011.4,355.9 1012.2,355.9 1013.0,355.4 1013.8,355.0 1014.6,354.9 1015.4,354.3 1016.1,354.1 1016.9,354.1 1017.7,353.4 1018.5,353.3 1019.3,353.4 1020.1,353.1 1020.9,352.5 1021.6,352.7 1022.4,352.0 1023.2,351.6 1023.9,352.0 1024.6,352.5 1025.2,352.2 1025.8,351.8 1026.3,351.9"/>
<g class="ax">
<line x1="192" y1="50.5" x2="1027" y2="50.5"/>
<line x1="192" y1="430.5" x2="1027" y2="430.5"/>
<line x1="192.5" y1="50" x2="192.5" y2="431"/>
<line x1="1026.5" y1="50" x2="1026.5" y2="431"/>
<line x1="188" y1="50.5" x2="192" y2="50.5"/>
<line x1="188" y1="82.5" x2="192" y2="82.5"/>
<line x1="188" y1="113.5" x2="192" y2="113.5"/>
<line x1="188" y1="145.5" x2="192" y2="145.5"/>
<line x1="188" y1="177.5" x2="192" y2="177.5"/>
<line x1="188" y1="208.5" x2="192" y2="208.5"/>
<line x1="188" y1="240.5" x2="192" y2="240.5"/>
<line x1="188" y1="272.5" x2="192" y2="272.5"/>
<line x1="188" y1="303.5" x2="192" y2="303.5"/>
<line x1="188" y1="335.5" x2="192" y2="335.5"/>
<line x1="188" y1="367.5" x2="192" y2="367.5"/>
<line x1="188" y1="398.5" x2="192" y2="398.5"/>
<line x1="188" y1="430.5" x2="192" y2="430.5"/>
<line x1="1027" y1="50.5" x2="1031" y2="50.5"/>
<line x1="1027" y1="79.5" x2="1031" y2="79.5"/>
<line x1="1027" y1="108.5" x2="1031" y2="108.5"/>
<line x1="1027" y1="138.5" x2="1031" y2="138.5"/>
<line x1="1027" y1="167.5" x2="1031" y2="167.5"/>
<line x1="1027" y1="196.5" x2="1031" y2="196.5"/>
<line x1="1027" y1="225.5" x2="1031" y2="225.5"/>
<line x1="1027" y1="255.5" x2="1031" y2="255.5"/>
<line x1="1027" y1="284.5" x2="1031" y2="284.5"/>
<line x1="1027" y1="313.5" x2="1031" y2="313.5"/>
<line x1="1027" y1="342.5" x2="1031" y2="342.5"/>
<line x1="1027" y1="372.5" x2="1031" y2="372.5"/>
<line x1="1027" y1="401.5" x2="1031" y2="401.5"/>
<line x1="1027" y1="430.5" x2="1031" y2="430.5"/>
<line x1="192.5" y1="431" x2="192.5" y2="435"/>
<line x1="262.5" y1="431" x2="262.5" y2="435"/>
<line x1="331.5" y1="431" x2="331.5" y2="435"/>
<line x1="401.5" y1="431" x2="401.5" y2="435"/>
<line x1="470.5" y1="431" x2="470.5" y2="435"/>
<line x1="539.5" y1="431" x2="539.5" y2="435"/>
<line x1="609.5" y1="431" x2="609.5" y2="435"/>
<line x1="678.5" y1="431" x2="678.5" y2="435"/>
<line x1="748.5" y1="431" x2="748.5" y2="435"/>
<line x1="818.5" y1="431" x2="818.5" y2="435"/>
<line x1="887.5" y1="431" x2="887.5" y2="435"/>
<line x1="957.5" y1="431" x2="957.5" y2="435"/>
<line x1="1026.5" y1="431" x2="1026.5" y2="435"/>
</g>
<g class="yl" text-anchor="end">
<text x="185.2" y="55.5">70</text>
<text x="185.2" y="87.5">65</text>
<text x="185.2" y="118.5">60</text>
<text x="185.2" y="150.5">55</text>
<text x="185.2" y="182.5">50</text>
<text x="185.2" y="213.5">45</text>
<text x="185.2" y="245.5">40</text>
<text x="185.2" y="277.5">35</text>
<text x="185.2" y="308.5">30</text>
<text x="185.2" y="340.5">25</text>
<text x="185.2" y="372.5">20</text>
<text x="185.2" y="403.5">15</text>
<text x="185.2" y="435.5">10</text>
</g>
<g class="yl">
<text x="1034.8" y="55.5">38</text>
<text x="1034.8" y="84.5">36</text>
<text x="1034.8" y="113.5">34</text>
<text x="1034.8" y="143.5">32</text>
<text x="1034.8" y="172.5">30</text>
<text x="1034.8" y="201.5">28</text>
<text x="1034.8" y="230.5">26</text>
<text x="1034.8" y="260.5">24</text>
<text x="1034.8" y="289.5">22</text>
<text x="1034.8" y="318.5">20</text>
<text x="1034.8" y="347.5">18</text>
<text x="1034.8" y="377.5">16</text>
<text x="1034.8" y="406.5">14</text>
<text x="1034.8" y="435.5">12</text>
</g>
<g class="xl">
<text x="192.9" y="447.5">04/11/23</text><text x="192.9" y="462.5">00:00</text>
<text x="262.9" y="447.5">04/11/23</text><text x="262.9" y="462.5">02:00</text>
<text x="331.9" y="447.5">04/11/23</text><text x="331.9" y="462.5">04:00</text>
<text x="401.9" y="447.5">04/11/23</text><text x="401.9" y="462.5">06:00</text>
<text x="470.9" y="447.5">04/11/23</text><text x="470.9" y="462.5">08:00</text>
<text x="539.9" y="447.5">04/11/23</text><text x="539.9" y="462.5">10:00</text>
<text x="609.9" y="447.5">04/11/23</text><text x="609.9" y="462.5">12:00</text>
<text x="678.9" y="447.5">04/11/23</text><text x="678.9" y="462.5">14:00</text>
<text x="748.9" y="447.5">04/11/23</text><text x="748.9" y="462.5">16:00</text>
<text x="818.9" y="447.5">04/11/23</text><text x="818.9" y="462.5">18:00</text>
<text x="887.9" y="447.5">04/11/23</text><text x="887.9" y="462.5">20:00</text>
<text x="957.9" y="447.5">04/11/23</text><text x="957.9" y="462.5">22:00</text>
<text x="1026.9" y="447.5">04/12/23</text><text x="1026.9" y="462.5">00:00</text>
</g>
<text class="b" x="466.2" y="17.6" font-size="16" textLength="168" lengthAdjust="spacing">Mount Davis (PMN16)</text>
<text class="b" x="609.3" y="484" font-size="15" text-anchor="middle">Date/Time (EDT)</text>
<text class="b" font-size="15" textLength="120" lengthAdjust="spacing" transform="translate(158.6,300.6) rotate(-90)">Temperature (&#160;F)</text>
<text class="b" font-size="15" textLength="151.6" lengthAdjust="spacing" transform="translate(1071.6,315.9) rotate(-90)">Relative Humidity (%)</text>
<g class="lg">
<rect x="8.5" y="30.5" width="7" height="7" fill="#f00" stroke="#000" stroke-width="1" shape-rendering="crispEdges"/><text x="20" y="37.5" textLength="86.8" lengthAdjust="spacing">2.0m Temperature</text>
<rect x="8.5" y="44.5" width="7" height="7" fill="#00f" stroke="#000" stroke-width="1" shape-rendering="crispEdges"/><text x="20" y="51.5" textLength="75.3" lengthAdjust="spacing">2.0m Dew Point</text>
<rect x="8.5" y="58.5" width="7" height="7" fill="#0f0" stroke="#000" stroke-width="1" shape-rendering="crispEdges"/><text x="20" y="65.5" textLength="107.0" lengthAdjust="spacing">2.0m Relative Humidity</text>
</g>
</svg>
</body></html>
